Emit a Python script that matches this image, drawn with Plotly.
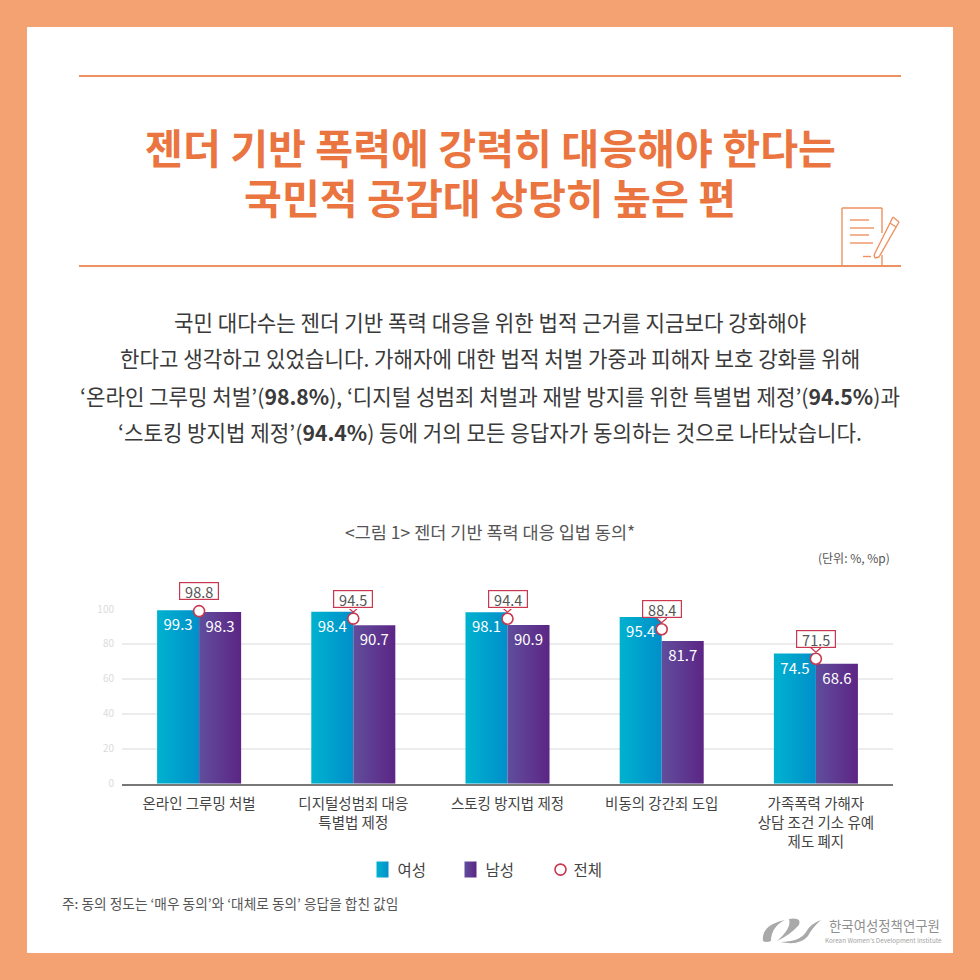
import plotly.graph_objects as go

SIZE = 980
FONT = "Noto Sans CJK KR"

categories = [
    "온라인 그루밍 처벌",
    "디지털성범죄 대응<br>특별법 제정",
    "스토킹 방지법 제정",
    "비동의 강간죄 도입",
    "가족폭력 가해자<br>상담 조건 기소 유예<br>제도 폐지",
]
women = [99.3, 98.4, 98.1, 95.4, 74.5]
men = [98.3, 90.7, 90.9, 81.7, 68.6]
total = [98.8, 94.5, 94.4, 88.4, 71.5]
y_ticks = [0, 20, 40, 60, 80, 100]

title_lines = ["젠더 기반 폭력에 강력히 대응해야 한다는", "국민적 공감대 상당히 높은 편"]
body_lines = [
    "국민 대다수는 젠더 기반 폭력 대응을 위한 법적 근거를 지금보다 강화해야",
    "한다고 생각하고 있었습니다. 가해자에 대한 법적 처벌 가중과 피해자 보호 강화를 위해",
    "‘온라인 그루밍 처벌’(<b>98.8%</b>), ‘디지털 성범죄 처벌과 재발 방지를 위한 특별법 제정’(<b>94.5%</b>)과",
    "‘스토킹 방지법 제정’(<b>94.4%</b>) 등에 거의 모든 응답자가 동의하는 것으로 나타났습니다.",
]

PEACH = "#f5a273"
ORANGE = "#ea7540"
RULE = "#ee9160"
RED = "#c9384f"
GREY_LOGO = "#a9a9a9"


def px_x(x):
    return x / SIZE


def px_y(y):
    return 1 - y / SIZE


def label(x, y, text, size, color="#444444", anchor="center"):
    return dict(
        xref="paper", yref="paper", x=px_x(x), y=px_y(y), text=text,
        showarrow=False, xanchor=anchor, yanchor="middle",
        font=dict(family=FONT, size=size, color=color),
    )


def line(x0, y0, x1, y1, color=RULE, width=2):
    return dict(
        type="line", xref="paper", yref="paper", layer="above",
        x0=px_x(x0), y0=px_y(y0), x1=px_x(x1), y1=px_y(y1),
        line=dict(color=color, width=width),
    )


def blob(points, color=GREY_LOGO):
    # closed outline given in page pixels, used for the logo
    cmds = []
    for p in points:
        letter, coords = p[0], p[1:]
        xy = []
        for i in range(0, len(coords), 2):
            xy.append(f"{px_x(coords[i]):.5f},{px_y(coords[i + 1]):.5f}")
        cmds.append(letter + " " + " ".join(xy))
    return dict(
        type="path", xref="paper", yref="paper", layer="above",
        path=" ".join(cmds) + " Z", fillcolor=color, line=dict(width=0),
    )


xs = list(range(len(categories)))

fig = go.Figure()

fig.add_trace(
    go.Bar(
        x=xs, y=women, name="여성", marker=dict(color="#00a3cc", line=dict(width=0)),
        text=[f"{v:.1f}" for v in women], textposition="inside", insidetextanchor="end",
        textangle=0, textfont=dict(family=FONT, size=15, color="white"),
        cliponaxis=False,
    )
)
fig.add_trace(
    go.Bar(
        x=xs, y=men, name="남성", marker=dict(color="#5e3a92", line=dict(width=0)),
        text=[f"{v:.1f}" for v in men], textposition="inside", insidetextanchor="end",
        textangle=0, textfont=dict(family=FONT, size=15, color="white"),
        cliponaxis=False,
    )
)
fig.add_trace(
    go.Scatter(
        x=xs, y=total, name="전체", mode="markers", cliponaxis=False,
        marker=dict(size=11, color="white", line=dict(color=RED, width=1.6)),
    )
)

annotations = []
for i, line_text in enumerate(title_lines):
    annotations.append(label(490, [146, 196][i], f"<b>{line_text}</b>", 41.2, ORANGE))
for i, line_text in enumerate(body_lines):
    annotations.append(label(490, [321, 358, 395, 431][i], line_text, 21.2, "#3a3a3a"))

annotations += [
    label(490, 531, "&lt;그림 1&gt; 젠더 기반 폭력 대응 입법 동의*", 17.5, "#555555"),
    label(892, 557, "(단위: %, %p)", 12, "#555555", "right"),
    label(60, 903, "주: 동의 정도는 ‘매우 동의’와 ‘대체로 동의’ 응답을 합친 값임", 13.7, "#555555", "left"),
    label(884, 925, "한국여성정책연구원", 13.4, "#8f8f8f", "center"),
    label(883, 940, "Korean Women's Development Institute", 6.3, "#a5a5a5", "center"),
]

# boxed value above each total marker
for i, v in enumerate(total):
    annotations.append(
        dict(
            x=i, y=v, xref="x", yref="y", yshift=20, text=f"{v:.1f}", showarrow=False,
            width=38, height=16, bgcolor="white", bordercolor=RED, borderwidth=1.2,
            borderpad=0, font=dict(family=FONT, size=14.5, color="#555555"),
        )
    )

shapes = [
    dict(type="rect", xref="paper", yref="paper", layer="below", x0=px_x(27), x1=px_x(953),
         y0=px_y(953), y1=px_y(27), fillcolor="white", line=dict(width=0)),
    line(79, 76, 901, 76),
    line(79, 266, 901, 266),
    # note and pen icon
    line(842, 266, 842, 208, RULE, 1.4),
    line(842, 208, 882, 208, RULE, 1.4),
    line(882, 208, 882, 233, RULE, 1.4),
    line(882, 255, 882, 266, RULE, 1.4),
    line(850, 220, 869, 220, RULE, 1.4),
    line(850, 228, 874, 228, RULE, 1.4),
    line(850, 235, 869, 235, RULE, 1.4),
    line(850, 243, 873, 243, RULE, 1.4),
    line(863, 256.5, 871, 256.5, RULE, 1.4),
    line(874, 255, 893, 217, RULE, 1.4),
    line(879, 257, 899, 222, RULE, 1.4),
    line(874, 255, 875, 258, RULE, 1.4),
    line(875, 258, 879, 257, RULE, 1.4),
    line(893, 217, 899, 222, RULE, 1.4),
    line(890, 223, 896, 227, RULE, 1.4),
    # logo
    blob([("M", 763, 941), ("Q", 761, 925, 785, 920), ("Q", 771, 927, 771, 941), ("Q", 766, 943, 763, 941)]),
    blob([("M", 789, 919), ("Q", 802, 917, 799, 925), ("Q", 790, 935, 777, 941), ("Q", 792, 928, 789, 919)]),
    blob([("M", 780, 942), ("Q", 800, 942, 806, 932), ("Q", 810, 924, 821, 920), ("Q", 812, 928, 808, 936), ("Q", 800, 946, 780, 942)]),
]

# small pointer from each box down to its marker
for i, v in enumerate(total):
    shapes.append(
        dict(
            type="path", layer="above", xref="x", yref="y", xsizemode="pixel", ysizemode="pixel",
            xanchor=i, yanchor=v, path="M -5 11 L 0 6.5 L 5 11",
            fillcolor="white", line=dict(color=RED, width=1.2),
        )
    )

fig.update_layout(
    width=SIZE,
    height=SIZE,
    autosize=False,
    margin=dict(l=0, r=0, t=0, b=0, autoexpand=False),
    paper_bgcolor=PEACH,
    plot_bgcolor="white",
    font=dict(family=FONT),
    barmode="group",
    bargap=0.455,
    bargroupgap=0,
    annotations=annotations,
    shapes=shapes,
    legend=dict(
        orientation="h", x=px_x(489.5), y=px_y(870), xanchor="center", yanchor="middle",
        entrywidth=43, entrywidthmode="pixels", itemwidth=30,
        font=dict(family=FONT, size=15.5, color="#444444"),
        bgcolor="rgba(0,0,0,0)",
    ),
    xaxis=dict(
        domain=[px_x(122), px_x(893)],
        range=[-0.5, 4.5],
        tickmode="array",
        tickvals=xs,
        ticktext=categories,
        tickangle=0,
        showgrid=False,
        zeroline=False,
        showline=True,
        linecolor="#777777",
        linewidth=1.5,
        ticks="",
        ticklabelstandoff=6,
        tickfont=dict(family=FONT, size=14.5, color="#444444"),
    ),
    yaxis=dict(
        domain=[px_y(783.7), px_y(609)],
        range=[0, 100],
        tickmode="array",
        tickvals=y_ticks,
        showgrid=True,
        gridcolor="#ececec",
        gridwidth=1.5,
        zeroline=False,
        ticks="",
        ticklabelstandoff=7,
        tickfont=dict(family=FONT, size=10, color="#dcdcdc"),
    ),
)

# bars carry a left-to-right gradient that plotly has no option for,
# and the legend swatches are taller than plotly draws them
post_script = """
document.body.style.margin = '0';
document.body.style.background = '#f5a273';
var gd = document.getElementById('{plot_id}');
var svg = gd.querySelector('.main-svg');
var defs = document.createElementNS('http://www.w3.org/2000/svg', 'defs');
defs.innerHTML = '<linearGradient id="gradW" x1="0" x2="1" y1="0" y2="0"><stop offset="0" stop-color="#00b2cf"/><stop offset="1" stop-color="#008fca"/></linearGradient>'
  + '<linearGradient id="gradM" x1="0" x2="1" y1="0" y2="0"><stop offset="0" stop-color="#604e9c"/><stop offset="1" stop-color="#5c2585"/></linearGradient>';
svg.insertBefore(defs, svg.firstChild);
var ids = ['url(#gradW)', 'url(#gradM)'];
gd.querySelectorAll('.barlayer .trace.bars').forEach(function (t, i) {
  t.querySelectorAll('.point path').forEach(function (p) { p.style.fill = ids[i]; });
});
gd.querySelectorAll('.legend .traces').forEach(function (t, i) {
  var p = t.querySelector('.legendpoints path');
  if (!p) return;
  if (i < 2) {
    p.setAttribute('d', 'M-1,-8h12v16h-12z');
    p.style.fill = ids[i];
  } else {
    p.setAttribute('transform', 'translate(7,0) ' + (p.getAttribute('transform') || ''));
  }
});
"""

fig.write_html("out.html", post_script=post_script, config={"displayModeBar": False})
